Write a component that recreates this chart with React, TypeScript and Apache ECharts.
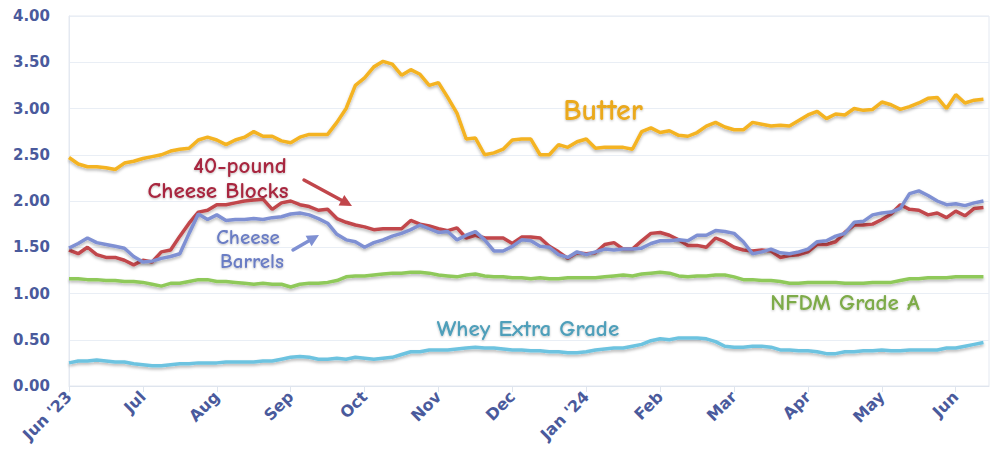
import React, { useEffect, useRef } from "react";
import * as echarts from "echarts";

// Month tick labels (x value = months since Jun 1, 2023)
const MONTHS = ["Jun '23", "Jul", "Aug", "Sep", "Oct", "Nov", "Dec", "Jan '24", "Feb", "Mar", "Apr", "May", "Jun"];
const POINTS_PER_MONTH = 8;

// Prices, $/lb, sampled every 1/8 month
const BUTTER = [
  2.47, 2.40, 2.37, 2.37, 2.36, 2.34, 2.41, 2.43,
  2.46, 2.48, 2.50, 2.54, 2.56, 2.57, 2.66, 2.69,
  2.66, 2.61, 2.66, 2.69, 2.75, 2.70, 2.70, 2.65,
  2.63, 2.69, 2.72, 2.72, 2.72, 2.85, 3.00, 3.25,
  3.33, 3.45, 3.51, 3.48, 3.36, 3.42, 3.37, 3.25,
  3.28, 3.12, 2.95, 2.67, 2.68, 2.50, 2.52, 2.56,
  2.66, 2.67, 2.67, 2.50, 2.50, 2.61, 2.58, 2.64,
  2.67, 2.57, 2.58, 2.58, 2.58, 2.56, 2.75, 2.79,
  2.74, 2.76, 2.71, 2.70, 2.74, 2.81, 2.85, 2.80,
  2.77, 2.77, 2.85, 2.83, 2.81, 2.82, 2.81, 2.87,
  2.93, 2.97, 2.89, 2.94, 2.93, 3.00, 2.98, 2.99,
  3.07, 3.04, 2.99, 3.02, 3.06, 3.11, 3.12, 3.00,
  3.15, 3.06, 3.09, 3.10,
];
const BLOCKS = [
  1.47, 1.43, 1.50, 1.42, 1.39, 1.39, 1.36, 1.31,
  1.36, 1.34, 1.45, 1.47, 1.62, 1.76, 1.88, 1.90,
  1.96, 1.96, 1.98, 2.00, 2.01, 2.02, 1.91, 1.98,
  2.00, 1.96, 1.94, 1.90, 1.91, 1.81, 1.77, 1.74,
  1.72, 1.69, 1.70, 1.70, 1.70, 1.79, 1.75, 1.73,
  1.70, 1.68, 1.71, 1.60, 1.63, 1.60, 1.60, 1.60,
  1.54, 1.61, 1.61, 1.60, 1.51, 1.45, 1.38, 1.44,
  1.43, 1.44, 1.53, 1.55, 1.48, 1.48, 1.57, 1.65,
  1.66, 1.63, 1.58, 1.52, 1.52, 1.50, 1.60, 1.56,
  1.50, 1.47, 1.46, 1.47, 1.46, 1.39, 1.41, 1.42,
  1.45, 1.53, 1.53, 1.56, 1.66, 1.74, 1.74, 1.75,
  1.80, 1.86, 1.96, 1.91, 1.90, 1.85, 1.87, 1.82,
  1.89, 1.84, 1.92, 1.93,
];
const BARRELS = [
  1.49, 1.54, 1.60, 1.55, 1.53, 1.51, 1.49, 1.40,
  1.34, 1.35, 1.38, 1.40, 1.43, 1.65, 1.86, 1.80,
  1.85, 1.79, 1.80, 1.80, 1.81, 1.80, 1.82, 1.83,
  1.86, 1.87, 1.85, 1.81, 1.76, 1.64, 1.58, 1.56,
  1.50, 1.55, 1.58, 1.62, 1.65, 1.69, 1.74, 1.70,
  1.66, 1.67, 1.58, 1.63, 1.67, 1.58, 1.46, 1.46,
  1.51, 1.58, 1.57, 1.51, 1.50, 1.42, 1.39, 1.45,
  1.42, 1.45, 1.48, 1.47, 1.48, 1.48, 1.49, 1.54,
  1.57, 1.57, 1.58, 1.57, 1.63, 1.63, 1.68, 1.67,
  1.65, 1.56, 1.43, 1.45, 1.48, 1.44, 1.43, 1.45,
  1.48, 1.56, 1.57, 1.62, 1.65, 1.77, 1.78, 1.85,
  1.87, 1.88, 1.92, 2.08, 2.11, 2.06, 2.00, 1.96,
  1.97, 1.95, 1.98, 2.00,
];
const NFDM = [
  1.16, 1.16, 1.15, 1.15, 1.14, 1.14, 1.13, 1.13,
  1.12, 1.10, 1.08, 1.11, 1.11, 1.13, 1.15, 1.15,
  1.13, 1.13, 1.12, 1.11, 1.10, 1.11, 1.10, 1.10,
  1.07, 1.10, 1.11, 1.11, 1.12, 1.14, 1.18, 1.19,
  1.19, 1.20, 1.21, 1.22, 1.22, 1.23, 1.23, 1.22,
  1.20, 1.19, 1.18, 1.20, 1.21, 1.19, 1.18, 1.18,
  1.17, 1.17, 1.16, 1.17, 1.16, 1.16, 1.17, 1.17,
  1.17, 1.17, 1.18, 1.19, 1.20, 1.19, 1.21, 1.22,
  1.23, 1.22, 1.19, 1.18, 1.19, 1.19, 1.20, 1.20,
  1.18, 1.15, 1.15, 1.14, 1.14, 1.13, 1.11, 1.11,
  1.12, 1.12, 1.12, 1.12, 1.11, 1.11, 1.11, 1.12,
  1.12, 1.12, 1.14, 1.16, 1.16, 1.17, 1.17, 1.17,
  1.18, 1.18, 1.18, 1.18,
];
const WHEY = [
  0.25, 0.27, 0.27, 0.28, 0.27, 0.26, 0.26, 0.24,
  0.23, 0.22, 0.22, 0.23, 0.24, 0.24, 0.25, 0.25,
  0.25, 0.26, 0.26, 0.26, 0.26, 0.27, 0.27, 0.29,
  0.31, 0.32, 0.31, 0.29, 0.29, 0.30, 0.29, 0.31,
  0.30, 0.29, 0.30, 0.31, 0.34, 0.37, 0.37, 0.39,
  0.39, 0.39, 0.40, 0.41, 0.42, 0.41, 0.41, 0.40,
  0.39, 0.39, 0.38, 0.38, 0.37, 0.37, 0.36, 0.36,
  0.37, 0.39, 0.40, 0.41, 0.41, 0.43, 0.45, 0.49,
  0.51, 0.50, 0.52, 0.52, 0.52, 0.51, 0.48, 0.43,
  0.42, 0.42, 0.43, 0.43, 0.42, 0.39, 0.39, 0.38,
  0.38, 0.37, 0.35, 0.35, 0.37, 0.37, 0.38, 0.38,
  0.39, 0.38, 0.38, 0.39, 0.39, 0.39, 0.39, 0.41,
  0.41, 0.43, 0.45, 0.47,
];

const AXIS_COLOR = "#4a5a9c";
const NOTE_FONT = "'Comic Sans MS', 'Comic Neue', 'DejaVu Sans', sans-serif";

function toPairs(arr: number[]) {
  return arr.map((v, i) => [i / POINTS_PER_MONTH, v]);
}

function lineSeries(name: string, data: number[], color: string) {
  return {
    name,
    type: "line",
    data: toPairs(data),
    showSymbol: false,
    symbol: "none",
    smooth: false,
    lineStyle: {
      color,
      width: 3.5,
      shadowColor: "rgba(0,0,0,0.28)",
      shadowBlur: 3,
      shadowOffsetY: 2,
    },
    z: 3,
  };
}

function note(text: string, x: number, y: number, color: string, size: number, align = "left") {
  return {
    type: "text",
    x,
    y,
    z: 10,
    style: {
      text,
      fill: color,
      font: `bold ${size}px ${NOTE_FONT}`,
      align,
      verticalAlign: "middle",
      textShadowColor: "rgba(0,0,0,0.25)",
      textShadowBlur: 2,
      textShadowOffsetY: 1,
    },
  };
}

function arrow(x1: number, y1: number, x2: number, y2: number, color: string) {
  const ang = Math.atan2(y2 - y1, x2 - x1);
  const len = 12;
  const w = 6;
  const bx = x2 - len * Math.cos(ang);
  const by = y2 - len * Math.sin(ang);
  const px = -Math.sin(ang) * w;
  const py = Math.cos(ang) * w;
  return [
    {
      type: "line",
      z: 10,
      shape: { x1, y1, x2: bx, y2: by },
      style: { stroke: color, lineWidth: 3.5, lineCap: "round" },
    },
    {
      type: "polygon",
      z: 10,
      shape: { points: [[x2, y2], [bx + px, by + py], [bx - px, by - py]] },
      style: { fill: color },
    },
  ];
}

export default function App() {
  const ref = useRef<HTMLDivElement>(null);
  useEffect(() => {
    if (!ref.current) return;
    const chart = echarts.init(ref.current, undefined, { renderer: "svg" });
    chart.setOption({
      animation: false,
      backgroundColor: "#ffffff",
      grid: {
        left: 69,
        right: 7,
        top: 16,
        bottom: 73,
        show: true,
        borderColor: "#e4e9f1",
        borderWidth: 1,
        containLabel: false,
      },
      xAxis: {
        type: "value",
        min: 0,
        max: 12.45,
        interval: 1,
        axisLine: { show: true, lineStyle: { color: "#dfe5ee", width: 1 } },
        axisTick: { show: true, length: 6, lineStyle: { color: "#dfe5ee" } },
        splitLine: { show: false },
        axisLabel: {
          rotate: 45,
          margin: 8,
          color: AXIS_COLOR,
          fontFamily: "'DejaVu Sans', Verdana, sans-serif",
          fontWeight: "bold",
          fontSize: 16,
          showMaxLabel: false,
          formatter: (v: number) => (Number.isInteger(v) ? MONTHS[v] ?? "" : ""),
        },
      },
      yAxis: {
        type: "value",
        min: 0,
        max: 4,
        interval: 0.5,
        axisLine: { show: true, lineStyle: { color: "#e4e9f1" } },
        axisTick: { show: false },
        splitLine: { show: true, lineStyle: { color: "#e9eef5", width: 1 } },
        axisLabel: {
          margin: 19,
          color: AXIS_COLOR,
          fontFamily: "'DejaVu Sans', Verdana, sans-serif",
          fontWeight: "bold",
          fontSize: 15,
          formatter: (v: number) => v.toFixed(2),
        },
      },
      series: [
        lineSeries("NFDM Grade A", NFDM, "#8fc95a"),
        lineSeries("Whey Extra Grade", WHEY, "#6dc3e0"),
        lineSeries("Butter", BUTTER, "#f4b321"),
        lineSeries("40-pound Cheese Blocks", BLOCKS, "#c1464b"),
        lineSeries("Cheese Barrels", BARRELS, "#7f90d3"),
      ],
      graphic: [
        note("Butter", 603, 110, "#eaa91f", 30, "center"),
        note("40-pound", 240, 165, "#a8283f", 23, "center"),
        note("Cheese Blocks", 218, 190, "#a8283f", 23, "center"),
        ...arrow(304, 180, 352, 206, "#c1464b"),
        note("Cheese", 248, 237, "#6b7dc4", 21, "center"),
        note("Barrels", 252, 261, "#6b7dc4", 21, "center"),
        ...arrow(293, 250, 319, 235, "#7f90d3"),
        note("NFDM Grade A", 845, 302, "#7dab48", 23, "center"),
        note("Whey Extra Grade", 528, 328, "#4f9fba", 23, "center"),
      ],
    });
    return () => chart.dispose();
  }, []);
  return (
    <div
      ref={ref}
      style={{ position: "fixed", left: 0, top: 0, width: 996, height: 459 }}
    />
  );
}
